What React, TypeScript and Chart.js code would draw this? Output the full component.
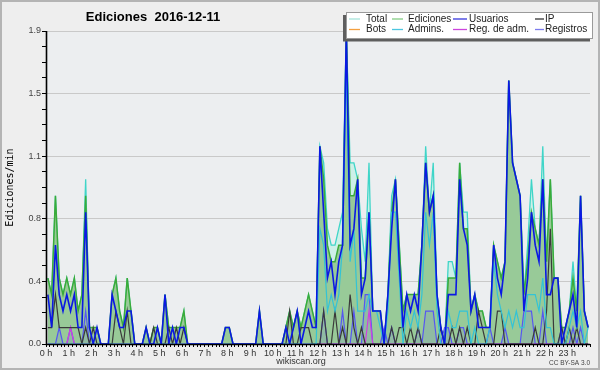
import React, { useEffect, useRef } from "react";
import { Chart, registerables } from "chart.js";

Chart.register(...registerables);

// ---------- DATA ----------
const HOUR_LABELS = [
  "0 h", "1 h", "2 h", "3 h", "4 h", "5 h", "6 h", "7 h", "8 h", "9 h", "10 h", "11 h",
  "12 h", "13 h", "14 h", "15 h", "16 h", "17 h", "18 h", "19 h", "20 h", "21 h", "22 h", "23 h",
];
const Y_LABELS = ["0.0", "0.4", "0.8", "1.1", "1.5", "1.9"];
const Y_MAX = 1.9;

const TITLE = "Ediciones  2016-12-11";
const Y_TITLE = "Ediciones/min";

// one value per 10 minutes (144 per day)
const TOTAL = [
  .4, .3, .9, .4, .3, .4,
  .3, .4, .2, .3, 1.0, .1,
  .1, .1, 0, 0, 0, .3,
  .4, .2, .1, .4, .2, 0,
  0, 0, .1, 0, .1, .1,
  0, .3, .1, .1, .1, .1,
  .2, 0, 0, 0, 0, 0,
  0, 0, 0, 0, 0, .1,
  .1, 0, 0, 0, 0, 0,
  0, 0, .2, 0, 0, 0,
  0, 0, 0, .1, .2, .1,
  .2, .1, .2, .3, .2, .1,
  1.2, 1.1, .7, .6, .6, .7,
  .8, 1.9, 1.1, 1.1, 1.0, .7,
  .5, 1.1, .2, .2, .2, 0,
  .3, .9, 1.0, .6, .2, .3,
  .3, .3, .3, .6, 1.2, .8,
  1.1, .3, .1, 0, .5, .5,
  .4, 1.1, .8, .8, .2, .3,
  .2, .2, .1, .1, .6, .5,
  .4, .5, 1.6, 1.1, 1.0, .9,
  .3, .6, 1.0, .7, .6, 1.2,
  .5, 1.0, .4, .4, .1, .1,
  .2, .5, .2, .9, .2, .1,
];

const EDICIONES = [
  .4, .3, .9, .4, .3, .4,
  .3, .4, .2, .3, .9, .1,
  .1, .1, 0, 0, 0, .3,
  .4, .2, .1, .4, .2, 0,
  0, 0, .1, 0, .1, .1,
  0, .3, .1, .1, .1, .1,
  .2, 0, 0, 0, 0, 0,
  0, 0, 0, 0, 0, .1,
  .1, 0, 0, 0, 0, 0,
  0, 0, .2, 0, 0, 0,
  0, 0, 0, .1, .2, .1,
  .2, .1, .2, .3, .2, .1,
  1.2, 1.0, .6, .5, .5, .6,
  .6, 1.9, .9, .9, 1.0, .4,
  .4, .8, .2, .2, .2, 0,
  .3, .8, 1.0, .6, .2, .3,
  .3, .3, .3, .6, 1.1, .8,
  .9, .3, .1, 0, .4, .4,
  .4, 1.1, .7, .7, .2, .3,
  .2, .2, .1, .1, .6, .5,
  .4, .5, 1.6, 1.1, 1.0, .9,
  .3, .5, .8, .7, .6, 1.0,
  .5, 1.0, .4, .4, .1, .1,
  .2, .4, .2, .9, .2, .1,
];

const USUARIOS = [
  .3, .1, .6, .3, .2, .3,
  .2, .3, .1, .1, .8, .1,
  0, .1, 0, 0, 0, .3,
  .2, .1, .1, .2, .2, 0,
  0, 0, .1, 0, 0, .1,
  0, .3, 0, .1, 0, .1,
  .1, 0, 0, 0, 0, 0,
  0, 0, 0, 0, 0, .1,
  .1, 0, 0, 0, 0, 0,
  0, 0, .2, 0, 0, 0,
  0, 0, 0, .1, 0, .1,
  .2, 0, .1, .2, .1, .1,
  1.2, .8, .4, .5, .3, .5,
  .6, 1.9, .6, .7, 1.0, .3,
  .4, .8, .2, .2, .2, 0,
  .3, .7, 1.0, .5, .1, .3,
  .2, .3, .2, .6, 1.1, .8,
  .9, .3, .1, 0, .3, .3,
  .3, 1.0, .7, .6, .2, .3,
  .1, .1, .1, .1, .6, .4,
  .3, .5, 1.6, 1.1, 1.0, .9,
  .2, .4, .8, .6, .5, 1.0,
  .3, .3, .4, .4, 0, .1,
  .2, .3, .1, .9, .2, .1,
];

const IP = [
  .1, .1, .3, .1, .1, .1,
  .1, .1, .1, 0, .1, 0,
  .1, 0, 0, 0, 0, 0,
  .2, .1, 0, .2, 0, 0,
  0, 0, 0, 0, .1, 0,
  0, 0, .1, 0, .1, 0,
  .1, 0, 0, 0, 0, 0,
  0, 0, 0, 0, 0, 0,
  0, 0, 0, 0, 0, 0,
  0, 0, 0, 0, 0, 0,
  0, 0, 0, 0, .2, 0,
  0, .1, .1, .1, 0, 0,
  0, .2, 0, 0, .2, 0,
  .1, 0, .3, .1, 0, .1,
  0, 0, 0, 0, 0, 0,
  0, .1, 0, .1, .1, 0,
  .1, 0, .1, 0, 0, 0,
  0, 0, .1, 0, 0, .1,
  0, .1, 0, .1, 0, 0,
  .2, .1, 0, 0, 0, .2,
  .2, 0, 0, 0, 0, 0,
  0, 0, 0, .1, 0, 0,
  .2, .7, 0, 0, .1, 0,
  .1, 0, .1, 0, 0, 0,
];

const ADMINS = [
  0, 0, 0, 0, 0, 0,
  0, 0, 0, 0, 0, 0,
  0, 0, 0, 0, 0, 0,
  0, 0, 0, 0, 0, 0,
  0, 0, 0, 0, 0, 0,
  0, 0, 0, 0, 0, 0,
  0, 0, 0, 0, 0, 0,
  0, 0, 0, 0, 0, 0,
  0, 0, 0, 0, 0, 0,
  0, 0, 0, 0, 0, 0,
  0, 0, 0, 0, 0, 0,
  0, 0, 0, 0, 0, 0,
  .7, .6, .2, .3, .2, .3,
  .6, 1.7, .5, .7, .2, .2,
  .2, .3, .2, .2, .1, 0,
  .2, .8, .8, .4, 0, .2,
  .1, .2, .1, .3, .8, .6,
  .8, .2, 0, 0, .2, .1,
  .1, .2, .2, .2, 0, .1,
  0, 0, 0, .1, .5, .3,
  .2, .1, .2, .1, .2, .1,
  .1, .3, .3, .3, .2, .4,
  .1, .1, 0, 0, 0, 0,
  .1, .2, .1, .2, 0, .1,
];

const REG_ADM = [
  0, 0, 0, 0, 0, 0,
  .1, 0, 0, 0, 0, 0,
  0, 0, 0, 0, 0, 0,
  0, 0, 0, 0, 0, 0,
  0, 0, 0, 0, 0, 0,
  0, 0, 0, 0, 0, 0,
  0, 0, 0, 0, 0, 0,
  0, 0, 0, 0, 0, 0,
  0, 0, 0, 0, 0, 0,
  0, 0, 0, 0, 0, 0,
  0, 0, 0, 0, 0, 0,
  0, 0, 0, 0, 0, 0,
  0, 0, 0, 0, 0, 0,
  0, 0, 0, 0, 0, 0,
  0, .2, 0, 0, 0, 0,
  0, 0, 0, 0, 0, 0,
  0, 0, 0, 0, 0, 0,
  0, 0, 0, 0, 0, 0,
  0, 0, 0, 0, 0, 0,
  0, 0, 0, 0, 0, 0,
  0, 0, 0, 0, 0, 0,
  0, 0, 0, 0, 0, 0,
  0, 0, 0, 0, 0, 0,
  0, 0, 0, 0, 0, 0,
];

const REGISTROS = [
  0, 0, 0, .1, 0, 0,
  .1, 0, 0, 0, .2, 0,
  0, 0, 0, 0, 0, 0,
  0, 0, 0, 0, 0, 0,
  0, 0, 0, 0, 0, 0,
  0, 0, 0, 0, 0, 0,
  0, 0, 0, 0, 0, 0,
  0, 0, 0, 0, 0, 0,
  0, 0, 0, 0, 0, 0,
  0, 0, 0, 0, 0, 0,
  0, 0, 0, 0, 0, 0,
  0, 0, 0, 0, 0, 0,
  0, .2, 0, 0, 0, 0,
  .2, 0, 0, .2, 0, 0,
  .3, .3, 0, 0, 0, .1,
  0, .1, 0, 0, 0, 0,
  0, 0, .1, 0, .2, .2,
  .2, 0, 0, .1, .1, 0,
  0, .1, .1, 0, 0, 0,
  0, 0, 0, .1, 0, 0,
  0, .1, 0, 0, 0, 0,
  .2, .2, .2, 0, 0, .2,
  0, 0, 0, 0, .1, 0,
  0, .1, 0, .1, 0, 0,
];

const LEGEND_ROW1 = ["Total", "Ediciones", "Usuarios", "IP"];
const LEGEND_ROW2 = ["Bots", "Admins.", "Reg. de adm.", "Registros"];

// ---------- STYLE ----------
const LEGEND_COLORS1 = ["#a6e3da", "#84cc84", "#3636dd", "#333333"];
const LEGEND_COLORS2 = ["#f4a040", "#4cc6e0", "#cc44dd", "#7c7cee"];
const LEGEND_LINE_X = [349, 392, 453, 535];
const LEGEND_LINE_W = [11, 11, 14, 9];
const LEGEND_TEXT_X = [366, 408, 469, 545];

export default function App() {
  const ref = useRef<HTMLCanvasElement>(null);

  useEffect(() => {
    document.body.style.margin = "0";
    const canvas = ref.current!;
    const pts = (arr: number[]) => arr.map((v, i) => ({ x: i + 0.5, y: v }));

    const decor = {
      id: "decor",
      beforeDraw(chart: any) {
        const { ctx, chartArea: a } = chart;
        ctx.save();
        ctx.fillStyle = "#eeeeee";
        ctx.fillRect(0, 0, 600, 370);
        ctx.fillStyle = "#eceef0";
        ctx.fillRect(a.left, a.top, a.right - a.left, a.bottom - a.top);
        ctx.strokeStyle = "#b4b4b4";
        ctx.lineWidth = 2;
        ctx.strokeRect(1, 1, 598, 368);
        ctx.restore();
      },
      afterDatasetsDraw(chart: any) {
        const { ctx, chartArea: a } = chart;
        ctx.save();
        ctx.strokeStyle = "#000";
        ctx.lineWidth = 1.6;
        ctx.beginPath();
        ctx.moveTo(a.left + 0.5, a.top);
        ctx.lineTo(a.left + 0.5, a.bottom + 0.5);
        ctx.lineTo(a.right, a.bottom + 0.5);
        ctx.stroke();
        ctx.restore();
      },
      afterDraw(chart: any) {
        const { ctx, chartArea: a } = chart;
        ctx.save();
        // title
        ctx.fillStyle = "#000";
        ctx.font = "bold 13px 'Liberation Sans', Arial, sans-serif";
        ctx.textAlign = "center";
        ctx.textBaseline = "middle";
        ctx.fillText(TITLE, 153, 17);
        // y title
        ctx.save();
        ctx.translate(10, (a.top + a.bottom) / 2);
        ctx.rotate(-Math.PI / 2);
        ctx.font = "10px 'DejaVu Sans Mono', monospace";
        ctx.fillStyle = "#000";
        ctx.textAlign = "center";
        ctx.textBaseline = "middle";
        ctx.fillText(Y_TITLE, 0, 0);
        ctx.restore();
        // footer
        ctx.font = "9px 'Liberation Sans', Arial, sans-serif";
        ctx.fillStyle = "#333";
        ctx.textAlign = "center";
        ctx.fillText("wikiscan.org", 301, 361.5);
        ctx.font = "6.5px 'Liberation Sans', Arial, sans-serif";
        ctx.fillStyle = "#444";
        ctx.textAlign = "right";
        ctx.fillText("CC BY-SA 3.0", 590, 363);
        // legend
        ctx.fillStyle = "#5e5e5e";
        ctx.fillRect(343, 15, 247, 26.5);
        ctx.fillStyle = "#ffffff";
        ctx.fillRect(346, 12, 247, 27);
        ctx.strokeStyle = "#9a9a9a";
        ctx.lineWidth = 1;
        ctx.strokeRect(346.5, 12.5, 246, 26);
        ctx.font = "10px 'Liberation Sans', Arial, sans-serif";
        ctx.textAlign = "left";
        ctx.textBaseline = "middle";
        const rows = [
          { names: LEGEND_ROW1, colors: LEGEND_COLORS1, y: 19 },
          { names: LEGEND_ROW2, colors: LEGEND_COLORS2, y: 29.5 },
        ];
        rows.forEach((r) => {
          r.names.forEach((n, k) => {
            ctx.strokeStyle = r.colors[k];
            ctx.lineWidth = 1.3;
            ctx.beginPath();
            ctx.moveTo(LEGEND_LINE_X[k], r.y);
            ctx.lineTo(LEGEND_LINE_X[k] + LEGEND_LINE_W[k], r.y);
            ctx.stroke();
            ctx.fillStyle = "#222";
            ctx.fillText(n, LEGEND_TEXT_X[k], r.y);
          });
        });
        ctx.restore();
      },
    };

    const line = (label: string, data: number[], color: string, width: number, order: number, extra: any = {}) => ({
      label,
      data: pts(data),
      borderColor: color,
      borderWidth: width,
      pointRadius: 0,
      tension: 0,
      fill: false,
      order,
      ...extra,
    });

    const chart = new Chart(canvas, {
      type: "line",
      data: {
        datasets: [
          line("Usuarios", USUARIOS, "#0a18e4", 1.6, 1),
          line("Admins.", ADMINS, "#33c3d6", 1.2, 2),
          line("IP", IP, "#3a3a3a", 1.2, 3),
          line("Reg. de adm.", REG_ADM, "#d040e0", 1.2, 4),
          line("Registros", REGISTROS, "#5656f2", 1.2, 5, { fill: "origin", backgroundColor: "rgba(90,90,240,0.13)" }),
          line("Ediciones", EDICIONES, "#3aab3a", 1.5, 6, { fill: "origin", backgroundColor: "#98ca98" }),
          line("Total", TOTAL, "#3fd5c8", 1.3, 7, { fill: "origin", backgroundColor: "rgba(200,240,230,0.85)" }),
        ] as any,
      },
      options: {
        responsive: false,
        animation: false,
        devicePixelRatio: 1,
        layout: { padding: { top: 31, right: 10, left: 0, bottom: 0 } },
        plugins: {
          legend: { display: false },
          title: { display: false },
          tooltip: { enabled: false },
        },
        scales: {
          x: {
            type: "linear",
            min: 0,
            max: 144,
            afterBuildTicks: (s: any) => {
              s.ticks = Array.from({ length: 145 }, (_, k) => ({ value: k }));
            },
            afterFit: (s: any) => {
              s.height = 26;
            },
            ticks: {
              autoSkip: false,
              maxRotation: 0,
              minRotation: 0,
              padding: 1,
              color: "#333",
              font: { family: "'Liberation Sans', Arial, sans-serif", size: 9 },
              callback: (v: any) => (v % 6 === 0 && v < 144 ? HOUR_LABELS[v / 6] : ""),
            },
            grid: { drawOnChartArea: false, tickLength: 3, tickColor: "#000", lineWidth: 1 },
            border: { display: false },
          },
          y: {
            type: "linear",
            min: 0,
            max: Y_MAX,
            afterBuildTicks: (s: any) => {
              s.ticks = Array.from({ length: 21 }, (_, k) => ({ value: (Y_MAX * k) / 20 }));
            },
            afterFit: (s: any) => {
              s.width = 46;
            },
            ticks: {
              autoSkip: false,
              padding: 1,
              color: "#444",
              font: { family: "'Liberation Sans', Arial, sans-serif", size: 9 },
              callback: (_v: any, idx: number) => (idx % 4 === 0 ? Y_LABELS[idx / 4] : ""),
            },
            grid: {
              color: (c: any) => (c.index % 4 === 0 ? "#c9c9c9" : "rgba(0,0,0,0)"),
              tickColor: "#000",
              tickLength: 4,
              lineWidth: 1,
            },
            border: { display: false },
          },
        },
      },
      plugins: [decor],
    } as any);

    return () => chart.destroy();
  }, []);

  return (
    <div style={{ position: "absolute", left: 0, top: 0, width: 600, height: 370 }}>
      <canvas ref={ref} width={600} height={370} style={{ width: 600, height: 370, display: "block" }} />
    </div>
  );
}
